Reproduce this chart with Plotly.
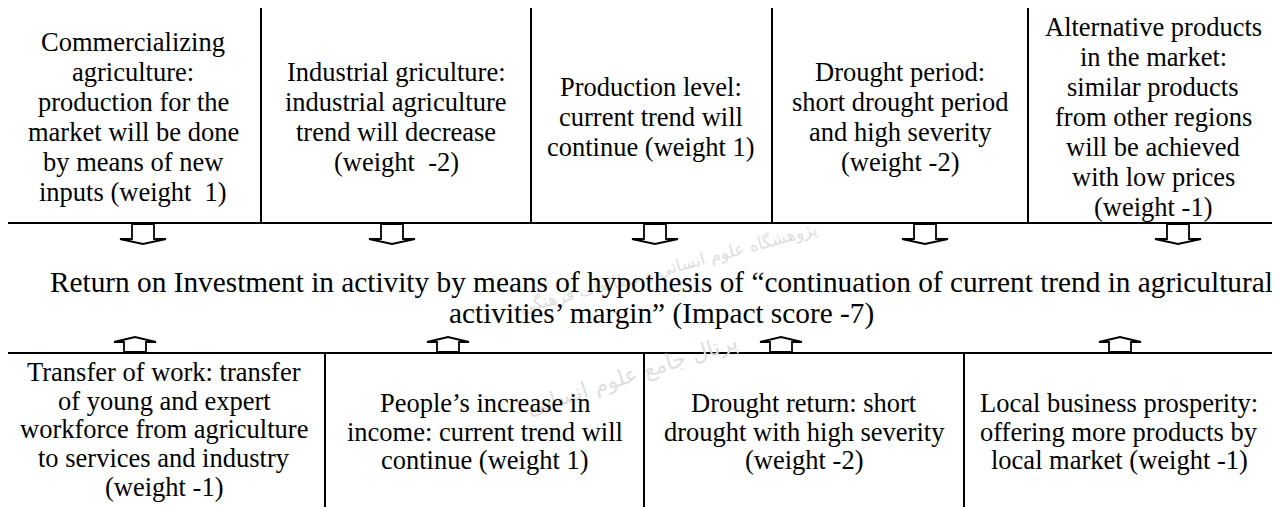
import plotly.graph_objects as go

# ---------------- data (texts) ----------------
top_boxes = [
    ["Commercializing", "agriculture:", "production for the", "market will be done",
     "by means of new", "inputs (weight\u00a0 1)"],
    ["Industrial griculture:", "industrial agriculture", "trend will decrease", "(weight\u00a0 -2)"],
    ["Production level:", "current trend will", "continue (weight 1)"],
    ["Drought period:", "short drought period", "and high severity", "(weight -2)"],
    ["Alternative products", "in the market:", "similar products", "from other regions",
     "will be achieved", "with low prices", "(weight -1)"],
]
bottom_boxes = [
    ["Transfer of work: transfer", "of young and expert", "workforce from agriculture",
     "to services and industry", "(weight -1)"],
    ["People\u2019s increase in", "income: current trend will", "continue (weight 1)"],
    ["Drought return: short", "drought with high severity", "(weight -2)"],
    ["Local business prosperity:", "offering more products by", "local market (weight -1)"],
]
center_lines = [
    "Return on Investment in activity by means of hypothesis of \u201ccontinuation of current trend in agricultural",
    "activities\u2019 margin\u201d (Impact score -7)",
]
watermark_lines = ["پژوهشگاه علوم انسانی و مطالعات فرهنگی", "پرتال جامع علوم انسانی"]

# ---------------- layout (positions / styles) ----------------
PAGE_W, PAGE_H = 1280, 507
OFF = 8  # default page margin around the figure
FONT = "Liberation Serif"
TOP_Y0, TOP_Y1 = 7, 223
TOP_EDGES = [5, 261, 531, 772, 1028, 1273]
BOT_Y0, BOT_Y1 = 353, 520
BOT_EDGES = [5, 325, 644, 964, 1290]
TOP_TEXT_X = [133, 396, 651, 900, 1153]
TOP_TEXT_Y0 = [42, 72, 87, 72, 27]
TOP_LINE_H = 30
BOT_TEXT_X = [164, 485, 804, 1119]
BOT_TEXT_Y0 = [372, 403, 403, 403]
BOT_LINE_H = 28.7
CENTER_X = 661
CENTER_Y = [282, 313]
DOWN_ARROWS_X = [143, 392, 655, 925, 1178]
UP_ARROWS_X = [135, 448, 781, 1120]
BOX_FS, CENTER_FS = 26.5, 29.3
LW = 2

fig = go.Figure()
shapes = []
annotations = []

# watermark (faint)
annotations.append(dict(x=668, y=268, text=watermark_lines[0], showarrow=False, textangle=-15,
                        font=dict(family="DejaVu Sans", size=17, color="#dedede"),
                        xref="x", yref="y"))
annotations.append(dict(x=632, y=375, text=watermark_lines[1], showarrow=False, textangle=-18,
                        font=dict(family="DejaVu Sans", size=22, color="#dedede"),
                        xref="x", yref="y"))

# top row boxes
shapes.append(dict(type="rect", x0=TOP_EDGES[0], x1=TOP_EDGES[-1], y0=TOP_Y0, y1=TOP_Y1,
                   line=dict(color="black", width=LW), xref="x", yref="y"))
for xe in TOP_EDGES[1:-1]:
    shapes.append(dict(type="line", x0=xe, x1=xe, y0=TOP_Y0, y1=TOP_Y1,
                       line=dict(color="black", width=LW), xref="x", yref="y"))
# bottom row boxes
shapes.append(dict(type="rect", x0=BOT_EDGES[0], x1=BOT_EDGES[-1], y0=BOT_Y0, y1=BOT_Y1,
                   line=dict(color="black", width=LW), xref="x", yref="y"))
for xe in BOT_EDGES[1:-1]:
    shapes.append(dict(type="line", x0=xe, x1=xe, y0=BOT_Y0, y1=BOT_Y1,
                       line=dict(color="black", width=LW), xref="x", yref="y"))

# arrows
for cx in DOWN_ARROWS_X:
    p = (f"M {cx-11},224 L {cx+11},224 L {cx+11},239 L {cx+23},239 L {cx},244 "
         f"L {cx-23},239 L {cx-11},239 Z")
    shapes.append(dict(type="path", path=p, fillcolor="white",
                       line=dict(color="black", width=1.8), xref="x", yref="y"))
for cx in UP_ARROWS_X:
    p = (f"M {cx-11},352 L {cx+11},352 L {cx+11},342 L {cx+21},342 L {cx},337 "
         f"L {cx-21},342 L {cx-11},342 Z")
    shapes.append(dict(type="path", path=p, fillcolor="white",
                       line=dict(color="black", width=1.8), xref="x", yref="y"))

def add_lines(lines, x, y0, dy, fs):
    for i, t in enumerate(lines):
        annotations.append(dict(x=x, y=y0 + i * dy, text=t, showarrow=False,
                                xanchor="center", yanchor="middle",
                                font=dict(family=FONT, size=fs, color="black"),
                                xref="x", yref="y"))

for lines, x, y0 in zip(top_boxes, TOP_TEXT_X, TOP_TEXT_Y0):
    add_lines(lines, x, y0, TOP_LINE_H, BOX_FS)
for lines, x, y0 in zip(bottom_boxes, BOT_TEXT_X, BOT_TEXT_Y0):
    add_lines(lines, x, y0, BOT_LINE_H, BOX_FS)
for t, y in zip(center_lines, CENTER_Y):
    add_lines([t], CENTER_X, y, 0, CENTER_FS)

fig.update_layout(
    width=PAGE_W - OFF, height=PAGE_H - OFF,
    margin=dict(l=0, r=0, t=0, b=0),
    paper_bgcolor="white", plot_bgcolor="white",
    xaxis=dict(range=[OFF, PAGE_W], visible=False, fixedrange=True),
    yaxis=dict(range=[PAGE_H, OFF], visible=False, fixedrange=True),
    shapes=shapes, annotations=annotations,
    showlegend=False,
)
fig.write_html("out.html", config={"displayModeBar": False})
